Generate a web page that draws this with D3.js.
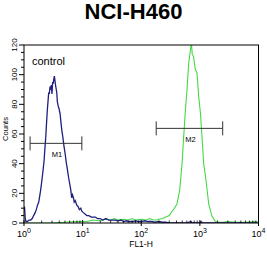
<!DOCTYPE html>
<html>
<head>
<meta charset="utf-8">
<script src="https://cdn.jsdelivr.net/npm/d3@7"></script>
<style>
  body { margin: 0; background: #fff; }
  svg { display: block; font-family: "Liberation Sans", Arial, sans-serif; }
</style>
</head>
<body>
<div id="chart"></div>
<script>
// control histogram (FL1-H value, counts)
const controlFL1 = [1.00, 1.02, 1.05, 1.08, 1.14, 1.22, 1.30, 1.38, 1.46, 1.55, 1.62, 1.70, 1.78, 1.85, 1.92, 1.98,
  2.05, 2.12, 2.20, 2.27, 2.35, 2.42, 2.50, 2.58, 2.64, 2.70, 2.78, 2.85, 2.92, 3.00, 3.08, 3.15, 3.22, 3.30, 3.37,
  3.45, 3.55, 3.62, 3.70, 3.78, 3.88, 3.97, 4.05, 4.12, 4.24, 4.40, 4.59, 4.80, 5.02, 5.25, 5.50, 5.80, 6.11, 6.30,
  6.50, 6.70, 6.97, 7.20, 7.50, 7.96, 8.40, 8.80, 9.30, 9.68, 10.3, 11.0, 11.8, 12.8, 14.0, 15.2, 16.4, 18.0, 19.9,
  22, 25, 28, 32, 36, 40, 45, 50, 56, 63, 71, 80, 90, 100, 115, 130, 150, 170, 200, 230, 260, 300, 400, 600, 700,
  750, 1000, 1050, 1100, 2000, 5000, 10000];
const controlCounts = [8, 11, 3, 1, 1, 2, 2, 3, 5, 7, 9, 12, 14, 18, 22, 26,
  31, 36, 42, 50, 58, 67, 76, 83, 88, 87, 92, 90, 93, 87, 95, 94, 97, 99, 96,
  93, 90, 88, 82, 80, 78, 77, 75, 74, 69, 63, 58, 52, 47, 41, 36, 30, 25, 22,
  17, 19, 17, 14, 15, 12, 11, 9, 10, 8, 7, 6, 5, 5, 4, 4, 4, 3, 3,
  2, 3, 2, 2, 2, 1.5, 2, 1, 1.5, 1, 1, 1.5, 1, 1, 1.5, 1, 1, 0.5, 1, 0.5, 0.5, 0, 0, 0, 1,
  0, 0, 1, 0, 0, 0, 0];

// stained sample histogram (FL1-H value, counts)
const sampleFL1 = [1, 3, 5, 8, 12, 15, 20, 25, 30, 35, 40, 50, 60, 70, 80, 100, 120, 140, 160, 180, 200, 230,
  275, 300, 331, 370, 407, 452, 497, 525, 562, 603, 646, 692, 716, 740, 783, 830, 895, 955, 1023, 1096, 1161,
  1230, 1288, 1413, 1520, 1622, 1841, 2100, 2500, 3000, 4000, 6000, 9000, 10000];
const sampleCounts = [0, 0, 0.5, 1, 1, 2, 1.5, 2.5, 2, 3, 2, 2.5, 2, 3, 2, 2.5, 2, 3, 2, 2, 2.5, 3,
  4.3, 5, 7.6, 10, 13, 22, 40, 56, 74, 90, 108, 117, 122, 114, 112, 104, 101, 85, 74, 56, 40,
  33, 27, 13, 8, 4.3, 1, 0.5, 0.5, 1, 0.5, 0.5, 1, 0.5];

const yTicks = [0, 20, 40, 60, 80, 100, 120];
const xDecades = [0, 1, 2, 3, 4];

// marker gates
const markerNames = ["M1", "M2"];
const markerLo = [1.27, 180];
const markerHi = [9.7, 2450];
const markerLevel = [53.7, 63.8];

const width = 267, height = 256;
const svg = d3.select("#chart").append("svg")
  .attr("width", width)
  .attr("height", height);

const x = d3.scaleLog().domain([1, 10000]).range([24, 258.5]);
const y = d3.scaleLinear().domain([0, 120]).range([223, 45]);

svg.append("text")
  .attr("x", 133.5)
  .attr("y", 19)
  .attr("text-anchor", "middle")
  .style("font-size", "22px")
  .style("font-weight", "bold")
  .text("NCI-H460");

svg.append("clipPath").attr("id", "plotClip")
  .append("rect")
  .attr("x", x(1)).attr("y", y(120))
  .attr("width", x(10000) - x(1))
  .attr("height", y(0) - y(120));

const line = d3.line()
  .x(d => x(d[0]))
  .y(d => y(d[1]));

const controlData = controlFL1.map((v, i) => [v, controlCounts[i]]);
const sampleData = sampleFL1.map((v, i) => [v, sampleCounts[i]]);

const plot = svg.append("g").attr("clip-path", "url(#plotClip)");

plot.append("path")
  .datum(sampleData)
  .attr("fill", "none")
  .attr("stroke", "#45d845")
  .attr("stroke-width", 1.1)
  .attr("d", line);

plot.append("path")
  .datum(controlData)
  .attr("fill", "none")
  .attr("stroke", "#1f1f80")
  .attr("stroke-width", 1.3)
  .attr("d", line);

// frame
svg.append("rect")
  .attr("x", x(1)).attr("y", y(120))
  .attr("width", x(10000) - x(1))
  .attr("height", y(0) - y(120))
  .attr("fill", "none")
  .attr("stroke", "#000")
  .attr("stroke-width", 1);

// y axis ticks (major every 20, minor every 5)
const yMinor = d3.range(0, 121, 5);
svg.selectAll("line.ytick")
  .data(yMinor)
  .enter()
  .append("line")
  .attr("class", "ytick")
  .attr("x1", d => x(1) - (d % 20 === 0 ? 5 : 3))
  .attr("x2", x(1))
  .attr("y1", d => y(d))
  .attr("y2", d => y(d))
  .attr("stroke", "#000")
  .attr("stroke-width", 1);

svg.selectAll("text.ylabel")
  .data(yTicks)
  .enter()
  .append("text")
  .attr("class", "ylabel")
  .attr("transform", d => `translate(16.5, ${y(d)}) rotate(-90)`)
  .attr("text-anchor", "middle")
  .style("font-size", "8px")
  .text(d => d);

svg.append("text")
  .attr("transform", `translate(8, 129) rotate(-90)`)
  .attr("text-anchor", "middle")
  .style("font-size", "7.5px")
  .text("Counts");

// x axis ticks (log decades + minor)
const xMinor = [];
for (let e = 0; e < 4; e++) {
  for (let m = 2; m <= 9; m++) xMinor.push(m * Math.pow(10, e));
}
svg.selectAll("line.xminor")
  .data(xMinor)
  .enter()
  .append("line")
  .attr("class", "xminor")
  .attr("x1", d => x(d))
  .attr("x2", d => x(d))
  .attr("y1", y(0))
  .attr("y2", y(0) - 2.5)
  .attr("stroke", "#000")
  .attr("stroke-width", 0.8);

svg.selectAll("line.xmajor")
  .data(xDecades)
  .enter()
  .append("line")
  .attr("class", "xmajor")
  .attr("x1", d => x(Math.pow(10, d)))
  .attr("x2", d => x(Math.pow(10, d)))
  .attr("y1", y(0) - 3)
  .attr("y2", y(0) + 3)
  .attr("stroke", "#000")
  .attr("stroke-width", 1);

const xl = svg.selectAll("text.xlabel")
  .data(xDecades)
  .enter()
  .append("text")
  .attr("class", "xlabel")
  .attr("x", d => x(Math.pow(10, d)))
  .attr("y", 236.5)
  .attr("text-anchor", "middle")
  .style("font-size", "9px");
xl.append("tspan").text("10");
xl.append("tspan")
  .attr("dy", -4)
  .style("font-size", "7px")
  .text(d => d);

svg.append("text")
  .attr("x", 141)
  .attr("y", 246.5)
  .attr("text-anchor", "middle")
  .style("font-size", "8.5px")
  .text("FL1-H");

svg.append("text")
  .attr("x", 32)
  .attr("y", 65)
  .style("font-size", "11px")
  .text("control");

// marker gates
markerNames.forEach((name, i) => {
  const g = svg.append("g").attr("stroke", "#333").attr("stroke-width", 1);
  const yy = y(markerLevel[i]);
  g.append("line")
    .attr("x1", x(markerLo[i])).attr("x2", x(markerHi[i]))
    .attr("y1", yy).attr("y2", yy);
  [markerLo[i], markerHi[i]].forEach(v => {
    g.append("line")
      .attr("x1", x(v)).attr("x2", x(v))
      .attr("y1", yy - 7).attr("y2", yy + 7);
  });
  svg.append("text")
    .attr("x", x(Math.sqrt(markerLo[i] * markerHi[i])) + 1)
    .attr("y", yy + 14)
    .attr("text-anchor", "middle")
    .style("font-size", "7.5px")
    .text(name);
});
</script>
</body>
</html>
